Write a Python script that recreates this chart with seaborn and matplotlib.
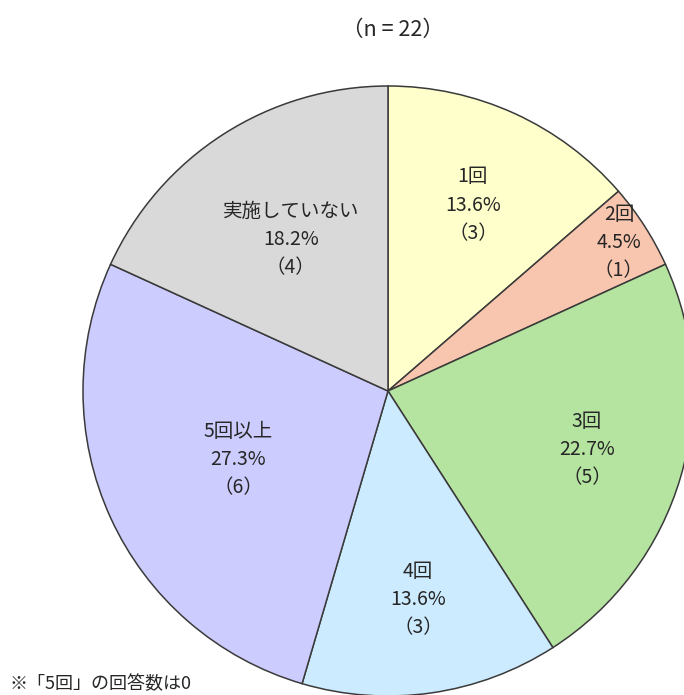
import numpy as np
import matplotlib
matplotlib.use("Agg")
import matplotlib.pyplot as plt
import seaborn as sns

# data
categories = ["1回", "2回", "3回", "4回", "5回以上", "実施していない"]
counts = [3, 1, 5, 3, 6, 4]
title = "（n = 22）"
note = "※「5回」の回答数は0"

colors = ["#FFFFCC", "#F8C6AE", "#B5E3A0", "#CCEBFF", "#CCCCFF", "#D9D9D9"]
label_dist = [0.67, 0.9, 0.68, 0.69, 0.54, 0.59]

sns.set_theme(style="white")
plt.rcParams["font.family"] = ["Noto Sans CJK JP", "DejaVu Sans"]

W, H = 684, 695
fig = plt.figure(figsize=(W / 100, H / 100), dpi=100)
ax = fig.add_axes([0, 0, 1, 1])

cx, cy, r = 388, H - 391, 305
total = sum(counts)
wedges, _ = ax.pie(counts, colors=colors, startangle=90, counterclock=False,
                   center=(cx, cy), radius=r,
                   wedgeprops=dict(edgecolor="#3a3a3a", linewidth=1.1),
                   frame=True)
ax.set_xlim(0, W)
ax.set_ylim(0, H)
ax.set_aspect("equal")
ax.axis("off")

for w, cat, n, d in zip(wedges, categories, counts, label_dist):
    ang = np.deg2rad((w.theta1 + w.theta2) / 2)
    x = cx + r * d * np.cos(ang)
    y = cy + r * d * np.sin(ang)
    pct = n / total * 100
    ax.text(x, y, f"{cat}\n{pct:.1f}%\n（{n}）", ha="center", va="center",
            fontsize=14, color="#262626", linespacing=1.45)

ax.text(393, H - 30, title, ha="center", va="center", fontsize=15.5, color="#262626")
ax.text(10, H - 693, note, ha="left", va="bottom", fontsize=13, color="#262626")

fig.savefig("out.png", dpi=100)
